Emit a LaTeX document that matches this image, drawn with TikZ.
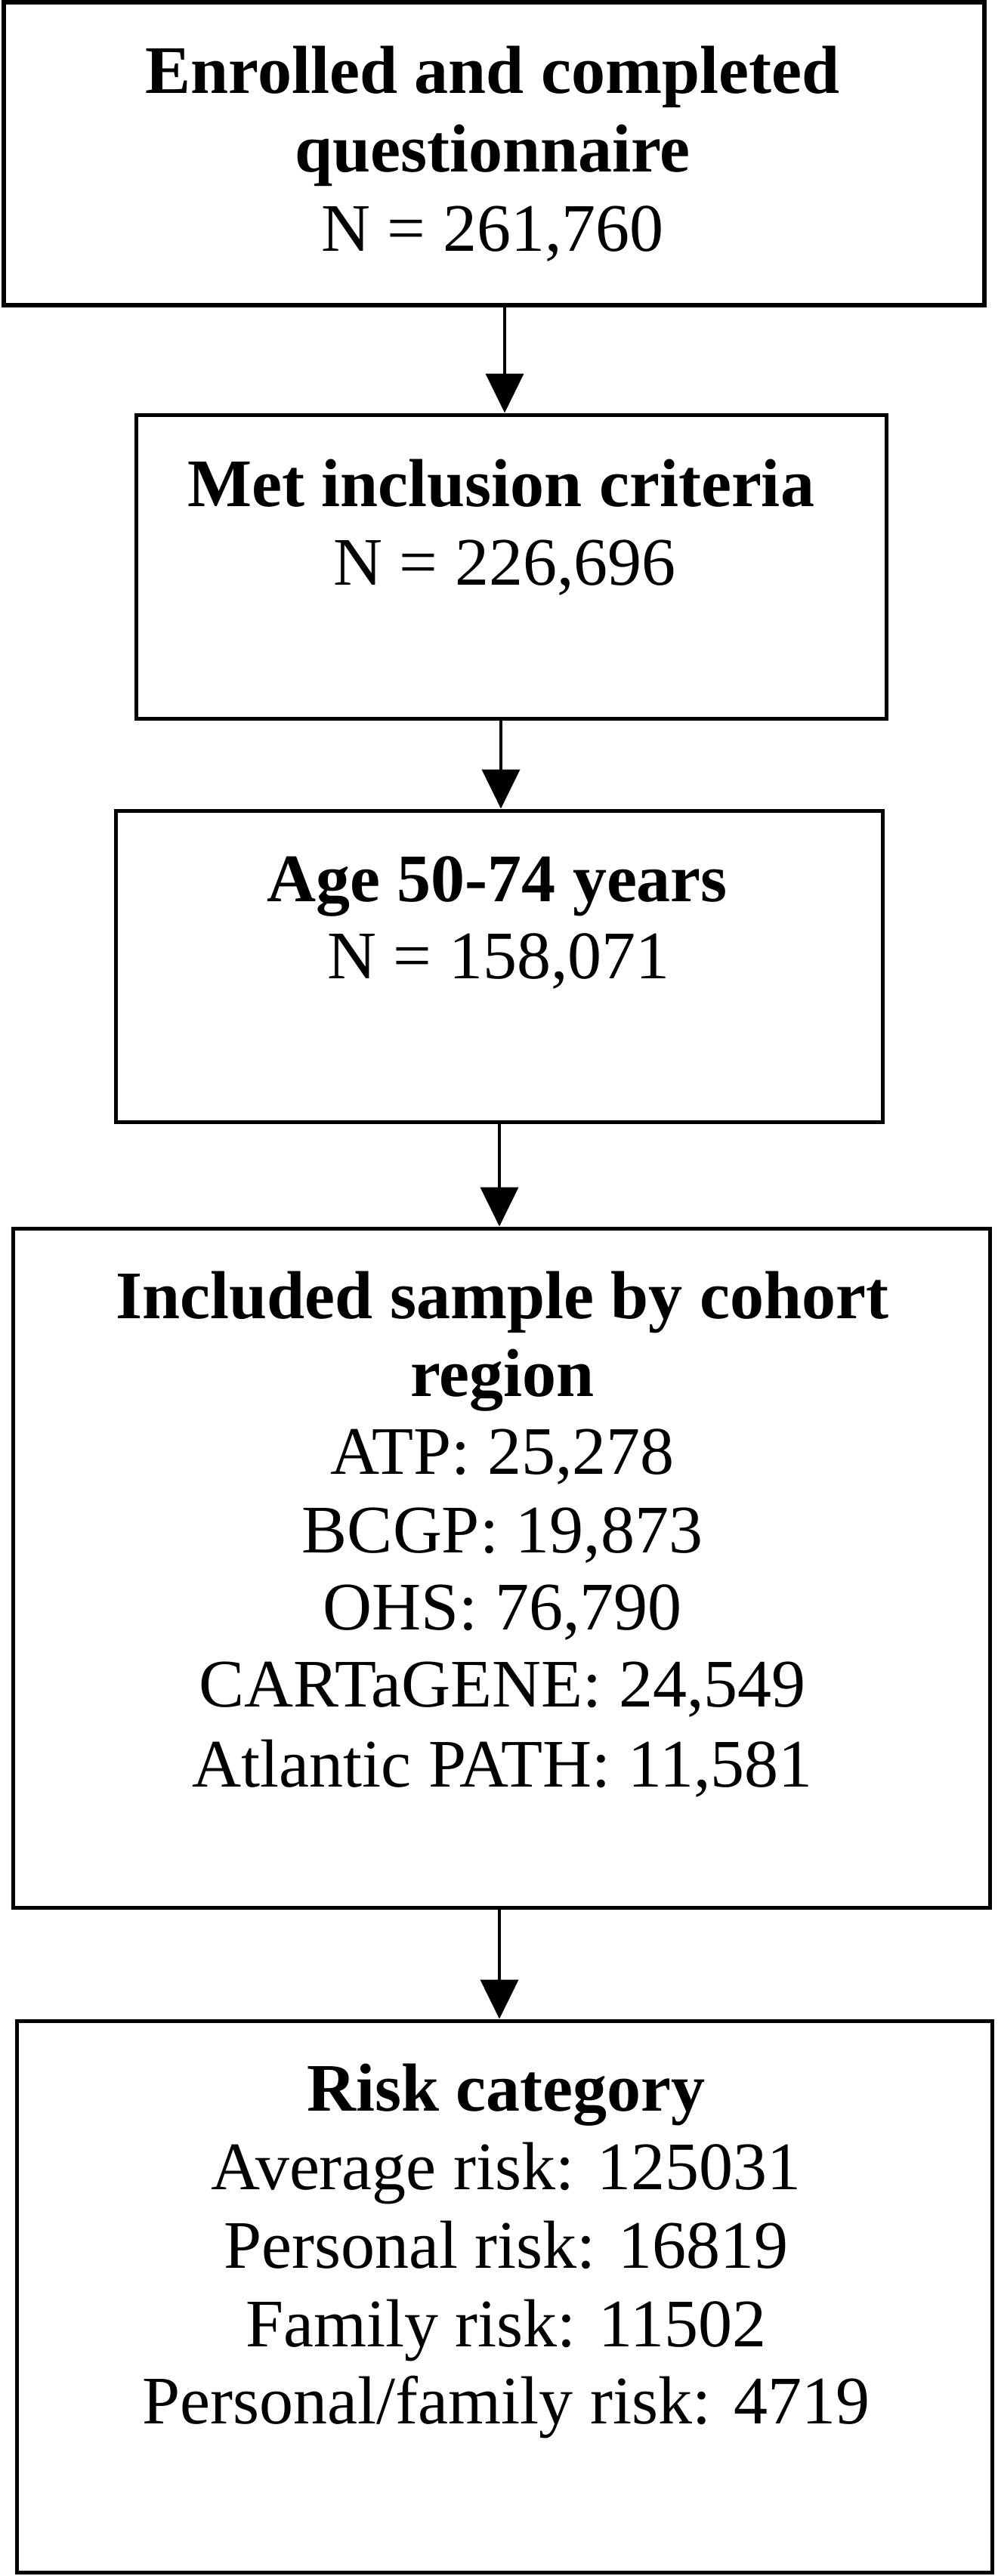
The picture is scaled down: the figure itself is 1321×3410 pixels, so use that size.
\documentclass[tikz,border=0pt]{standalone}
\usepackage{fontspec}
\setmainfont{Liberation Serif}
\usetikzlibrary{arrows.meta}
\tikzset{
  box/.style={draw=black, line width=5pt, rectangle, inner sep=0pt, fill=none},
  arr/.style={draw=black, line width=4pt, -{Triangle[width=50pt,length=52pt]}},
  ttl/.style={anchor=base, inner sep=0pt, font=\fontsize{90}{104}\selectfont\bfseries},
  txt/.style={anchor=base, inner sep=0pt, font=\fontsize{90}{104}\selectfont},
}
\begin{document}
\begin{tikzpicture}[x=1pt,y=-1pt]
\useasboundingbox[fill=white] (0,0) rectangle (1321,3410);
% boxes
\node[box, line width=6pt, minimum width=1298pt, minimum height=401pt] (b1) at (654,203.5) {};
\node[box, minimum width=993pt, minimum height=402pt] (b2) at (676.5,750) {};
\node[box, minimum width=1015pt, minimum height=412pt] (b3) at (660.5,1279) {};
\node[box, minimum width=1293pt, minimum height=899pt] (b4) at (663.5,2075.5) {};
\node[box, minimum width=1291pt, minimum height=730pt] (b5) at (667.5,3040) {};
% arrow columns
\coordinate (c1) at (668,0);
\coordinate (c2) at (663,0);
\coordinate (c3) at (661,0);
\coordinate (c4) at (661,0);
% texts box 1
\node[ttl] (t1a) at (652,123) {Enrolled and completed};
\node[ttl] (t1b) at (652,227) {questionnaire};
\node[txt] (t1c) at (652,332) {N = 261,760};
% box 2
\node[ttl] (t2a) at (663,670) {Met inclusion criteria};
\node[txt] (t2b) at (668,774) {N = 226,696};
% box 3
\node[ttl] (t3a) at (658,1193) {Age 50-74 years};
\node[txt] (t3b) at (660,1295) {N = 158,071};
% box 4
\node[ttl] (t4a) at (665,1745) {Included sample by cohort};
\node[ttl] (t4b) at (665,1848) {region};
\node[txt] (t4c) at (665,1951) {ATP: 25,278};
\node[txt] (t4d) at (665,2055) {BCGP: 19,873};
\node[txt] (t4e) at (665,2157) {OHS: 76,790};
\node[txt] (t4f) at (665,2259) {CARTaGENE: 24,549};
\node[txt] (t4g) at (665,2365) {Atlantic PATH: 11,581};
% box 5
\node[ttl] (t5a) at (670,2794) {Risk category};
\node[txt] (t5b) at (670,2898) {Average risk: 125031};
\node[txt] (t5c) at (670,3002) {Personal risk: 16819};
\node[txt] (t5d) at (670,3106) {Family risk: 11502};
\node[txt] (t5e) at (670,3208) {Personal/family risk: 4719};
% arrows
\draw[arr] (b1.south -| c1) -- (b2.north -| c1);
\draw[arr] (b2.south -| c2) -- (b3.north -| c2);
\draw[arr] (b3.south -| c3) -- (b4.north -| c3);
\draw[arr] (b4.south -| c4) -- (b5.north -| c4);
\end{tikzpicture}
\end{document}
